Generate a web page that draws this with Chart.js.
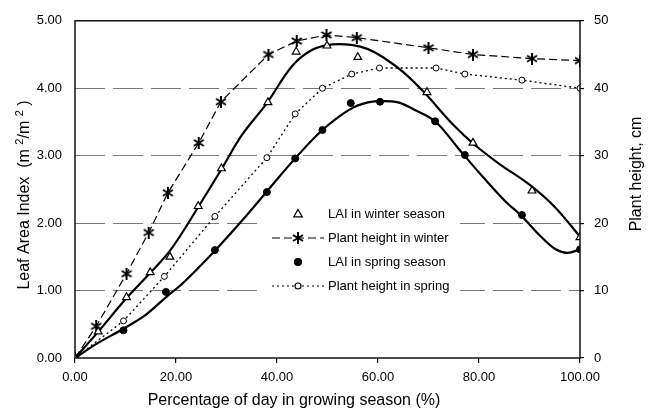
<!DOCTYPE html>
<html>
<head>
<meta charset="utf-8">
<script src="https://cdn.jsdelivr.net/npm/chart.js@4/dist/chart.umd.min.js"></script>
<style>
  html, body { margin: 0; padding: 0; background: #fff; }
  #wrap { width: 652px; height: 412px; position: relative; }
</style>
</head>
<body>
<div id="wrap"><canvas id="myChart"></canvas></div>
<script>
// measured points (x = % of growing season)
const winterLaiX = [0, 4.6, 10.2, 14.9, 18.8, 24.4, 29.0, 38.2, 43.8, 49.9, 56.0, 69.7, 78.8, 90.5, 100];
const winterLaiY = [0, 0.39, 0.90, 1.27, 1.50, 2.25, 2.81, 3.79, 4.54, 4.63, 4.46, 3.94, 3.19, 2.48, 1.79];

const winterHtX = [0, 4.2, 10.2, 14.6, 18.4, 24.5, 28.9, 38.3, 43.9, 49.8, 55.8, 70.0, 78.8, 90.5, 100];
const winterHtY = [0, 4.7, 12.5, 18.6, 24.5, 31.9, 38.0, 45.0, 47.0, 47.9, 47.5, 46.0, 45.0, 44.4, 44.1];

const springLaiX = [0, 9.6, 18.0, 27.7, 38.0, 43.6, 49.0, 54.6, 60.4, 71.3, 77.2, 88.5, 100];
const springLaiY = [0, 0.41, 0.98, 1.60, 2.46, 2.96, 3.38, 3.78, 3.80, 3.51, 3.01, 2.12, 1.61];

const springHtX = [0, 9.6, 17.7, 27.7, 38.0, 43.6, 49.0, 54.8, 60.3, 71.5, 77.2, 88.5, 100];
const springHtY = [0, 5.5, 12.1, 21.0, 29.7, 36.2, 40.0, 42.1, 43.0, 43.0, 42.1, 41.2, 40.0];

// fitted trend lines
const winterFitX = [0, 4.5, 10, 15, 19, 24.5, 29, 33, 38, 43, 47, 51, 55, 58, 61, 65, 69, 75, 79, 84, 90, 95, 100];
const winterFitY = [0, 0.38, 0.87, 1.27, 1.61, 2.25, 2.80, 3.30, 3.78, 4.33, 4.57, 4.65, 4.64, 4.58, 4.46, 4.24, 3.95, 3.45, 3.17, 2.88, 2.57, 2.24, 1.80];

const springFitX = [0, 4.5, 9.5, 14, 18, 21.5, 27.7, 33, 38, 43.6, 49, 54.5, 58, 61, 64, 67, 71.3, 76, 80, 85, 88.5, 92, 95, 97.5, 100];
const springFitY = [0, 0.22, 0.43, 0.64, 0.90, 1.12, 1.59, 2.03, 2.47, 2.96, 3.38, 3.69, 3.79, 3.81, 3.79, 3.69, 3.51, 3.10, 2.75, 2.34, 2.10, 1.82, 1.62, 1.56, 1.61];

const xTicks = [0, 20, 40, 60, 80, 100];
const laiTicks = [0, 1, 2, 3, 4, 5];
const heightTicks = [0, 10, 20, 30, 40, 50];

const legendLabels = [
  "LAI in winter season",
  "Plant height in winter",
  "LAI in spring season",
  "Plant height in spring"
];

const FONT = "'Liberation Sans', Arial, sans-serif";

function pts(xs, ys) {
  return xs.map((x, i) => ({ x: x, y: ys[i] }));
}

function makeStar() {
  const c = document.createElement("canvas");
  c.width = 12;
  c.height = 12;
  const g = c.getContext("2d");
  g.strokeStyle = "#000";
  g.lineWidth = 2;
  g.lineCap = "butt";
  g.beginPath();
  g.moveTo(6, 0); g.lineTo(6, 12);
  g.moveTo(1, 3); g.lineTo(11, 9);
  g.moveTo(1, 9); g.lineTo(11, 3);
  g.stroke();
  return c;
}
const star = makeStar();

function drawTriangle(ctx, x, y, r) {
  ctx.beginPath();
  ctx.moveTo(x, y - r);
  ctx.lineTo(x + r * 0.95, y + r * 0.65);
  ctx.lineTo(x - r * 0.95, y + r * 0.65);
  ctx.closePath();
  ctx.fillStyle = "#fff";
  ctx.fill();
  ctx.stroke();
}

function drawCircle(ctx, x, y, r, fill) {
  ctx.beginPath();
  ctx.arc(x, y, r, 0, Math.PI * 2);
  ctx.fillStyle = fill;
  ctx.fill();
  ctx.stroke();
}

const frame = {
  id: "frame",
  afterDatasetsDraw(chart) {
    const { ctx, chartArea: a } = chart;
    ctx.save();
    ctx.strokeStyle = "#000";
    ctx.lineWidth = 1.4;
    ctx.strokeRect(a.left, a.top, a.right - a.left, a.bottom - a.top);
    ctx.restore();
  }
};

const legendBox = {
  id: "legendBox",
  afterDatasetsDraw(chart) {
    const ctx = chart.ctx;
    const left = 262, top = 201, rowH = 24;
    const symX = 298, textX = 328;
    ctx.save();
    ctx.fillStyle = "#fff";
    ctx.fillRect(left, top, 198, 97);
    ctx.strokeStyle = "#000";
    ctx.lineWidth = 1.2;
    for (let i = 0; i < 4; i++) {
      const y = top + 13 + i * rowH;
      if (i === 1 || i === 3) {
        ctx.save();
        ctx.setLineDash(i === 1 ? [8, 4] : [2, 3]);
        ctx.beginPath();
        ctx.moveTo(272, y);
        ctx.lineTo(324, y);
        ctx.stroke();
        ctx.restore();
      }
      if (i === 0) drawTriangle(ctx, symX, y, 4.5);
      if (i === 1) ctx.drawImage(star, symX - 6, y - 6);
      if (i === 2) drawCircle(ctx, symX, y, 3.5, "#000");
      if (i === 3) drawCircle(ctx, symX, y, 3, "#fff");
      ctx.fillStyle = "#000";
      ctx.font = "13px " + FONT;
      ctx.textBaseline = "middle";
      ctx.textAlign = "left";
      ctx.fillText(legendLabels[i], textX, y);
    }
    ctx.restore();
  }
};

// axis titles drawn by hand: the right one reads bottom-to-top like the left
function drawParts(ctx, parts) {
  let total = 0;
  parts.forEach(p => {
    ctx.font = p[1] + "px " + FONT;
    total += ctx.measureText(p[0]).width;
  });
  let x = -total / 2;
  parts.forEach(p => {
    ctx.font = p[1] + "px " + FONT;
    ctx.fillText(p[0], x, p[2]);
    x += ctx.measureText(p[0]).width;
  });
}

const axisTitles = {
  id: "axisTitles",
  afterDraw(chart) {
    const ctx = chart.ctx;
    ctx.save();
    ctx.fillStyle = "#000";
    ctx.textBaseline = "middle";
    ctx.textAlign = "left";

    ctx.save();
    ctx.translate(294, 401);
    drawParts(ctx, [["Percentage of day in growing season (%)", 16, 0]]);
    ctx.restore();

    ctx.save();
    ctx.translate(25, 195);
    ctx.rotate(-Math.PI / 2);
    drawParts(ctx, [
      ["Leaf Area Index  (m ", 16, 0],
      ["2", 11, -5],
      ["/m ", 16, 0],
      ["2", 11, -5],
      [" )", 16, 0]
    ]);
    ctx.restore();

    ctx.save();
    ctx.translate(637, 174);
    ctx.rotate(-Math.PI / 2);
    drawParts(ctx, [["Plant height, cm", 16, 0]]);
    ctx.restore();

    ctx.restore();
  }
};

const ctx = document.getElementById("myChart").getContext("2d");
const chart = new Chart(ctx, {
  type: "scatter",
  data: {
    datasets: [
      {
        label: legendLabels[0],
        data: pts(winterLaiX, winterLaiY),
        yAxisID: "y",
        showLine: false,
        pointStyle: "triangle",
        pointRadius: 4.5,
        pointBackgroundColor: "#fff",
        pointBorderColor: "#000",
        pointBorderWidth: 1.2
      },
      {
        label: legendLabels[1],
        data: pts(winterHtX, winterHtY),
        yAxisID: "y1",
        showLine: true,
        borderColor: "#000",
        borderWidth: 1.2,
        borderDash: [8, 4],
        pointStyle: star,
        pointRadius: 6
      },
      {
        label: legendLabels[2],
        data: pts(springLaiX, springLaiY),
        yAxisID: "y",
        showLine: false,
        pointStyle: "circle",
        pointRadius: 3.5,
        pointBackgroundColor: "#000",
        pointBorderColor: "#000"
      },
      {
        label: legendLabels[3],
        data: pts(springHtX, springHtY),
        yAxisID: "y1",
        showLine: true,
        borderColor: "#000",
        borderWidth: 1.3,
        borderDash: [2, 3],
        pointStyle: "circle",
        pointRadius: 3,
        pointBackgroundColor: "#fff",
        pointBorderColor: "#000",
        pointBorderWidth: 1
      },
      {
        label: "winter fit",
        data: pts(winterFitX, winterFitY),
        yAxisID: "y",
        showLine: true,
        borderColor: "#000",
        borderWidth: 2.2,
        pointRadius: 0,
        tension: 0.35
      },
      {
        label: "spring fit",
        data: pts(springFitX, springFitY),
        yAxisID: "y",
        showLine: true,
        borderColor: "#000",
        borderWidth: 2.2,
        pointRadius: 0,
        tension: 0.35
      }
    ]
  },
  options: {
    responsive: true,
    maintainAspectRatio: false,
    animation: false,
    events: [],
    layout: { padding: { top: 18, left: 0, right: 0, bottom: 0 } },
    plugins: {
      legend: { display: false },
      tooltip: { enabled: false }
    },
    scales: {
      x: {
        type: "linear",
        min: 0,
        max: 100,
        afterBuildTicks: s => { s.ticks = xTicks.map(v => ({ value: v })); },
        afterFit: s => { s.height = 54; },
        grid: { drawOnChartArea: false, drawTicks: true, tickLength: 5, color: "#000", lineWidth: 1.2 },
        border: { display: false },
        ticks: {
          padding: 7,
          color: "#000",
          font: { family: FONT, size: 13 },
          callback: v => v.toFixed(2)
        }
      },
      y: {
        position: "left",
        min: 0,
        max: 5,
        afterBuildTicks: s => { s.ticks = laiTicks.map(v => ({ value: v })); },
        afterFit: s => { s.width = 75; },
        grid: {
          drawTicks: false,
          color: c => (c.tick && (c.tick.value === 0 || c.tick.value === 5)) ? "rgba(0,0,0,0)" : "#7a7a7a",
          lineWidth: 1
        },
        border: { display: false, dash: [30, 8] },
        ticks: {
          padding: 13,
          color: "#000",
          font: { family: FONT, size: 13 },
          callback: v => v.toFixed(2)
        }
      },
      y1: {
        position: "right",
        min: 0,
        max: 50,
        afterBuildTicks: s => { s.ticks = heightTicks.map(v => ({ value: v })); },
        afterFit: s => { s.width = 72; },
        grid: { drawOnChartArea: false, drawTicks: true, tickLength: 4, color: "#000", lineWidth: 1.2 },
        border: { display: false },
        ticks: {
          padding: 10,
          color: "#000",
          font: { family: FONT, size: 13 }
        }
      }
    }
  },
  plugins: [frame, legendBox, axisTitles]
});
</script>
</body>
</html>
